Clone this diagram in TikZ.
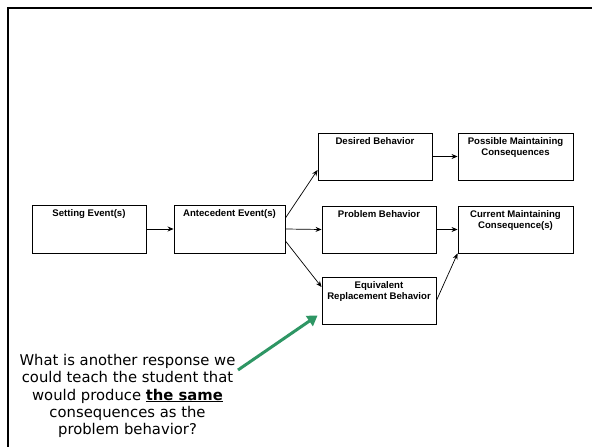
\documentclass[tikz,border=0pt]{standalone}
\usepackage{fontspec}
\setmainfont{Liberation Sans}
\newfontfamily\qfont{DejaVu Sans}
\usetikzlibrary{arrows.meta,calc}

\definecolor{arrowgreen}{RGB}{46,150,100}

\tikzset{
  stagebox/.style={draw=black, line width=0.9pt, rectangle, inner sep=0pt},
  boxlabel/.style={anchor=north, yshift=-5pt, inner sep=0pt, align=center,
    font=\fontsize{9.6}{10.4}\selectfont\bfseries},
  flow/.style={draw=black, line width=0.7pt,
    -{Stealth[length=6pt,width=5pt,inset=2pt]}},
  hint/.style={draw=arrowgreen, line width=3pt,
    -{Triangle[length=10pt,width=12pt]}},
}

\begin{document}
\begin{tikzpicture}[x=1pt,y=-1pt]
  \useasboundingbox (0,0) rectangle (592,447);
  \fill[white] (0,0) rectangle (592,447);

  % slide frame: only the top and left edges fall inside the page
  \draw[line width=2.7pt] (8,448) -- (8,8) -- (593,8);

  % stage boxes
  \node[stagebox, minimum width=114pt, minimum height=48pt,
        label={[boxlabel]north:Setting Event(s)}] (set) at (89,229) {};
  \node[stagebox, minimum width=111pt, minimum height=48pt,
        label={[boxlabel]north:Antecedent Event(s)}] (ant) at (229.5,229) {};
  \node[stagebox, minimum width=114pt, minimum height=47pt,
        label={[boxlabel]north:Desired Behavior}] (des) at (375,156.5) {};
  \node[stagebox, minimum width=115pt, minimum height=47pt,
        label={[boxlabel]north:Possible Maintaining\\Consequences}] (pos) at (515.5,156.5) {};
  \node[stagebox, minimum width=114pt, minimum height=47pt,
        label={[boxlabel]north:Problem Behavior}] (prb) at (379,229.5) {};
  \node[stagebox, minimum width=115pt, minimum height=47pt,
        label={[boxlabel]north:Current Maintaining\\Consequence(s)}] (cur) at (515.5,229.5) {};
  \node[stagebox, minimum width=114pt, minimum height=47pt,
        label={[boxlabel]north:Equivalent\\Replacement Behavior}] (eqv) at (379,300.5) {};

  % connectors
  \draw[flow] (set.east) -- (ant.west);
  \draw[flow] ($(ant.east)+(0,-11)$) -- ($(des.west)+(0,13.5)$);
  \draw[flow] (ant.east) -- (prb.west);
  \draw[flow] ($(ant.east)+(0,12)$) -- ($(eqv.west)+(0,-13.5)$);
  \draw[flow] (des.east) -- (pos.west);
  \draw[flow] (prb.east) -- (cur.west);
  \draw[flow] (eqv.east) -- (cur.south west);

  % question with pointer to the replacement behavior
  \node[align=center, inner sep=0pt, font=\qfont\fontsize{14.8}{17.2}\selectfont]
    (question) at (127.5,396)
    {What is another response we\\could teach the student that\\would produce \underline{\textbf{the same}}\\consequences as the\\problem behavior?};
  \coordinate (qtail) at (238,370);
  \draw[hint] (qtail) -- ($(eqv.south west)+(-4,-9)$);
\end{tikzpicture}
\end{document}
